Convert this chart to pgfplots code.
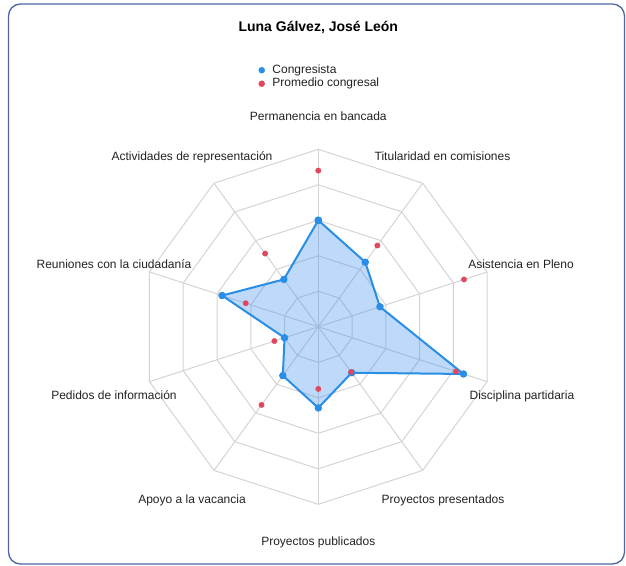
\documentclass[border=0pt]{standalone}
\usepackage{pgfplots}
\pgfplotsset{compat=1.18}
\usepackage{fontspec}
\setmainfont{Liberation Sans}
\definecolor{cblue}{RGB}{40,142,230}
\definecolor{cfillc}{RGB}{60,140,240}
\definecolor{cred}{RGB}{224,72,96}
\definecolor{cgrid}{RGB}{212,212,212}
\definecolor{cframe}{RGB}{80,100,165}
\definecolor{ctext}{RGB}{34,34,34}
\tikzset{lbl/.style={font=\fontsize{12bp}{14bp}\selectfont, text=ctext, anchor=base, inner sep=0pt}}

\begin{document}
\begin{tikzpicture}
\begin{axis}[name=ax, x=177.5bp, y=177.5bp,
  xmin=-1.7932, xmax=1.7335, ymin=-1.3420, ymax=1.8411,
  hide axis, clip=false,
  legend style={at={(axis description cs:0.4130,0.8880)}, anchor=north west,
    draw=none, fill=none, inner sep=0pt, row sep=0pt,
    font=\fontsize{12bp}{14bp}\selectfont, text=ctext,
    nodes={inner sep=1bp, text height=9bp, text depth=2.5bp},
    /tikz/every odd column/.append style={column sep=6.7bp}},
  legend cell align=left,
]
\addlegendimage{only marks, mark=*, mark size=3bp, color=cblue}
\addlegendentry{Congresista}
\addlegendimage{only marks, mark=*, mark size=3bp, color=cred}
\addlegendentry{Promedio congresal}

% grid decagons
\pgfplotsinvokeforeach{0.2,0.4,0.6,0.8,1}{
  \addplot[forget plot, data cs=polar, draw=cgrid, line width=1bp, mark=none]
    coordinates {(90,#1) (54,#1) (18,#1) (-18,#1) (-54,#1) (-90,#1) (-126,#1) (-162,#1) (162,#1) (126,#1) (90,#1)};
}
% spokes
\pgfplotsinvokeforeach{90,54,18,-18,-54,-90,-126,-162,162,126}{
  \addplot[forget plot, data cs=polar, draw=cgrid, line width=1bp, mark=none]
    coordinates {(#1,0) (#1,1)};
}

% Congresista
\addplot[forget plot, data cs=polar, draw=cblue, line width=2bp, line join=round,
  fill=cfillc, fill opacity=0.33, draw opacity=1,
  mark=*, mark size=2.7bp, mark options={fill=cblue, draw=cblue, fill opacity=1}]
  coordinates {(90,0.60) (54,0.45) (18,0.365) (-18,0.86) (-54,0.32) (-90,0.457)
               (-126,0.34) (-162,0.20) (162,0.57) (126,0.33) (90,0.60)};

% Promedio congresal
\addplot[forget plot, data cs=polar, only marks, mark=*, mark size=2.7bp,
  mark options={fill=cred, draw=cred}]
  coordinates {(90,0.88) (54,0.566) (18,0.863) (-18,0.815) (-54,0.315) (-90,0.35)
               (-126,0.544) (-162,0.26) (162,0.43) (126,0.51)};

% title
\node[font=\bfseries\fontsize{14bp}{16bp}\selectfont, anchor=base, inner sep=0pt]
  at (axis cs:0,1.6637) {Luna Gálvez, José León};

% category labels
\node[lbl] at (axis cs:0,1.1600) {Permanencia en bancada};
\node[lbl] at (axis cs:0.6997,0.9380) {Titularidad en comisiones};
\node[lbl] at (axis cs:-0.7115,0.9380) {Actividades de representación};
\node[lbl] at (axis cs:-1.151,0.3310) {Reuniones con la ciudadanía};
\node[lbl] at (axis cs:1.142,0.3310) {Asistencia en Pleno};
\node[lbl] at (axis cs:-1.151,-0.4100) {Pedidos de información};
\node[lbl] at (axis cs:1.1476,-0.4070) {Disciplina partidaria};
\node[lbl] at (axis cs:-0.7115,-0.9950) {Apoyo a la vacancia};
\node[lbl] at (axis cs:0.7025,-0.9950) {Proyectos presentados};
\node[lbl] at (axis cs:0,-1.2340) {Proyectos publicados};

% frame
\draw[cframe, line width=1.3bp, rounded corners=12bp]
  (axis cs:-1.7454,1.8186) rectangle (axis cs:1.7251,-1.3363);
\end{axis}
\pgfresetboundingbox
\useasboundingbox (ax.south west) rectangle (ax.north east);
\end{tikzpicture}
\end{document}
